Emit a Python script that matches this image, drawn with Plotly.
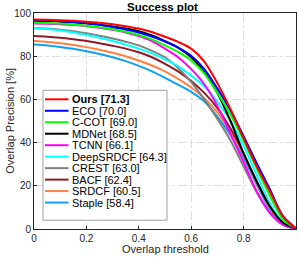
import plotly.graph_objects as go

thresholds = [0.0, 0.05, 0.1, 0.15, 0.2, 0.25, 0.3, 0.35, 0.4, 0.45, 0.5,
              0.55, 0.6, 0.65, 0.7, 0.75, 0.8, 0.85, 0.9, 0.95, 1.0]

ours      = [97.0, 96.9, 96.7, 96.4, 96.0, 95.5, 94.8, 93.9, 92.8, 91.2, 89.0, 86.6, 83.5, 77.5, 67.5, 55.5, 42.0, 29.0, 17.5, 6.0, 0.3]
eco       = [96.6, 96.5, 96.2, 95.8, 95.2, 94.5, 93.5, 92.4, 91.0, 89.1, 86.8, 84.0, 80.2, 74.0, 65.0, 55.0, 43.0, 30.5, 18.5, 6.0, 0.3]
ccot      = [95.5, 95.4, 95.1, 94.7, 94.1, 93.4, 92.5, 91.3, 89.8, 87.8, 85.0, 82.0, 78.0, 72.0, 63.0, 53.0, 41.0, 28.0, 15.5, 4.5, 0.2]
mdnet     = [96.4, 96.3, 96.1, 95.7, 95.2, 94.6, 93.8, 92.8, 91.6, 89.6, 87.0, 84.0, 79.5, 72.5, 63.0, 50.0, 35.0, 22.0, 10.5, 3.0, 0.2]
tcnn      = [95.1, 95.0, 94.8, 94.4, 93.9, 93.2, 92.2, 91.0, 89.3, 87.0, 83.5, 79.5, 74.0, 67.0, 57.0, 44.0, 31.0, 17.5, 7.5, 2.0, 0.1]
deepsrdcf = [93.1, 92.6, 91.9, 91.0, 89.8, 88.5, 87.0, 85.3, 83.5, 81.3, 78.5, 75.3, 71.0, 66.0, 59.0, 50.0, 38.5, 25.0, 12.0, 3.0, 0.1]
crest     = [93.1, 92.8, 92.3, 91.6, 90.6, 89.5, 88.2, 86.7, 85.0, 82.5, 79.5, 74.5, 68.0, 60.0, 51.0, 41.0, 29.0, 17.0, 7.5, 2.0, 0.1]
bacf      = [89.3, 89.0, 88.5, 87.8, 87.0, 86.0, 84.8, 83.5, 81.8, 79.5, 76.5, 73.0, 68.5, 63.0, 56.0, 46.5, 35.0, 22.0, 10.5, 2.5, 0.1]
srdcf     = [87.0, 86.6, 86.0, 85.2, 84.2, 83.0, 81.6, 80.0, 78.0, 75.7, 73.0, 69.5, 65.5, 60.5, 54.0, 45.0, 34.5, 21.5, 10.0, 2.5, 0.1]
staple    = [85.4, 85.0, 84.3, 83.4, 82.3, 81.0, 79.5, 77.7, 75.5, 73.0, 70.0, 66.8, 63.5, 59.0, 52.0, 43.5, 33.0, 20.5, 9.0, 2.0, 0.1]

names  = ["<b>Ours [71.3]</b>", "ECO [70.0]", "C-COT [69.0]", "MDNet [68.5]", "TCNN [66.1]",
          "DeepSRDCF [64.3]", "CREST [63.0]", "BACF [62.4]", "SRDCF [60.5]", "Staple [58.4]"]
series = [ours, eco, ccot, mdnet, tcnn, deepsrdcf, crest, bacf, srdcf, staple]
colors = ["#ff0000", "#0000ff", "#00ff00", "#000000", "#ff00ff",
          "#00ffff", "#808080", "#8c1a26", "#ff8040", "#10a0f0"]

x_ticks = [0, 0.2, 0.4, 0.6, 0.8, 1]
x_tick_labels = ["0", "0.2", "0.4", "0.6", "0.8", "1"]
y_ticks = [0, 20, 40, 60, 80, 100]
y_tick_labels = ["0", "20", "40", "60", "80", "100"]

W, H = 299, 257
ml, mr, mt, mb = 34, 3, 13, 27.5
pw, ph = W - ml - mr, H - mt - mb

def px2paper_x(px):
    return (px - ml) / pw

def px2paper_y(py):
    return (H - mb - py) / ph

fig = go.Figure()
for name, vals, col in reversed(list(zip(names, series, colors))):
    fig.add_trace(go.Scatter(x=thresholds, y=vals, mode="lines", name=name,
                             line=dict(color=col, width=2, shape="spline", smoothing=0.8),
                             showlegend=False, hoverinfo="skip"))

FONT = "Liberation Sans, Arial, sans-serif"

leg_left, leg_top, leg_right, leg_bottom = 43, 90.5, 167, 220.7
row0, row_step = 99.5, 11.5
shapes = [dict(type="rect", xref="paper", yref="paper",
               x0=px2paper_x(leg_left), x1=px2paper_x(leg_right),
               y0=px2paper_y(leg_bottom), y1=px2paper_y(leg_top),
               line=dict(color="#a0a0a0", width=1), fillcolor="white", layer="above")]
annotations = []
for i, (name, col) in enumerate(zip(names, colors)):
    yy = px2paper_y(row0 + i * row_step)
    shapes.append(dict(type="line", xref="paper", yref="paper",
                       x0=px2paper_x(45), x1=px2paper_x(68.5), y0=yy, y1=yy,
                       line=dict(color=col, width=2), layer="above"))
    annotations.append(dict(xref="paper", yref="paper", x=px2paper_x(69.5), y=yy,
                            text=name, showarrow=False, xanchor="left", yanchor="middle",
                            font=dict(family=FONT, size=11, color="#000000")))

annotations.append(dict(xref="paper", yref="paper", x=px2paper_x(162), y=px2paper_y(6.5),
                        text="<b>Success plot</b>", showarrow=False, xanchor="center",
                        yanchor="middle", font=dict(family=FONT, size=11.5, color="#000")))
annotations.append(dict(xref="paper", yref="paper", x=0.5, y=px2paper_y(250),
                        text="Overlap threshold", showarrow=False, xanchor="center",
                        yanchor="middle", font=dict(family=FONT, size=11, color="#262626")))
annotations.append(dict(xref="paper", yref="paper", x=px2paper_x(10), y=px2paper_y(121),
                        text="Overlap Precision [%]", showarrow=False, xanchor="center",
                        yanchor="middle", textangle=-90,
                        font=dict(family=FONT, size=11, color="#262626")))

fig.update_layout(
    width=W, height=H,
    margin=dict(l=ml, r=mr, t=mt, b=mb, pad=0, autoexpand=False),
    paper_bgcolor="white", plot_bgcolor="white",
    font=dict(family=FONT, size=10, color="#262626"),
    shapes=shapes, annotations=annotations,
    showlegend=False,
)
fig.update_xaxes(range=[0, 1], tickvals=x_ticks, ticktext=x_tick_labels, automargin=False,
                 showgrid=True, gridcolor="#dedede", griddash="dashdot", gridwidth=1,
                 showline=True, linecolor="#262626", linewidth=1, mirror=True,
                 ticks="inside", ticklen=3, tickcolor="#262626", zeroline=False)
fig.update_yaxes(range=[0, 100], tickvals=y_ticks, ticktext=y_tick_labels, automargin=False,
                 showgrid=True, gridcolor="#dedede", griddash="dashdot", gridwidth=1,
                 showline=True, linecolor="#262626", linewidth=1, mirror=True,
                 ticks="inside", ticklen=3, tickcolor="#262626", zeroline=False)

fig.write_html("out.html", config={"displayModeBar": False},
               post_script="document.body.style.margin='0';document.body.style.overflow='hidden';")
